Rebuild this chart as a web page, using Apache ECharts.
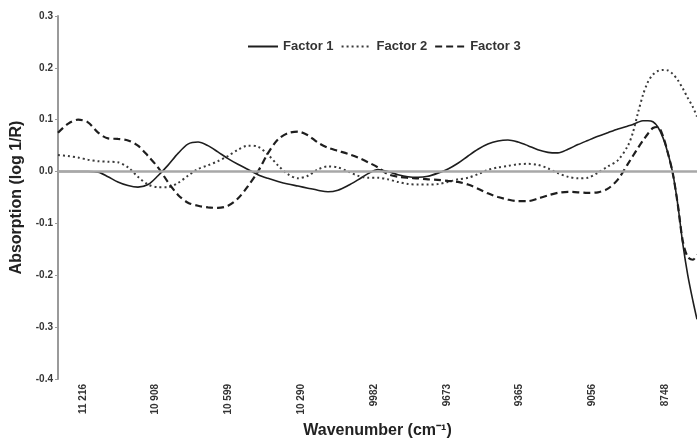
<!DOCTYPE html>
<html>
<head>
<meta charset="utf-8">
<script src="https://cdn.jsdelivr.net/npm/echarts@6/dist/echarts.min.js"></script>
<style>
html,body{margin:0;padding:0;background:#fff;}
#chart{width:697px;height:439px;}
</style>
</head>
<body>
<div id="chart"></div>
<script>
// Wavenumber (cm-1) sample positions
var wavenumbers = [11322,11280,11237,11195,11152,11110,11068,11025,10983,10940,
  10898,10856,10813,10771,10728,10686,10644,10601,10559,10516,
  10474,10432,10389,10347,10304,10262,10220,10177,10135,10092,
  10050,10007,9965,9923,9880,9838,9795,9753,9711,9668,
  9626,9583,9541,9499,9456,9414,9371,9329,9287,9244,
  9202,9159,9117,9075,9032,8990,8947,8905,8884,8863,
  8841,8820,8799,8778,8756,8735,8714,8693,8672,8651,
  8629,8612];

var factor1 = [0.000,0.000,0.000,0.000,-0.001,-0.010,-0.020,-0.027,-0.030,-0.025,
  -0.008,0.012,0.035,0.053,0.057,0.050,0.038,0.025,0.014,0.004,
  -0.006,-0.013,-0.019,-0.024,-0.028,-0.032,-0.036,-0.039,-0.036,-0.027,
  -0.016,-0.004,0.004,0.000,-0.006,-0.010,-0.011,-0.009,-0.003,0.005,
  0.016,0.030,0.043,0.053,0.059,0.061,0.057,0.050,0.042,0.037,
  0.036,0.043,0.052,0.060,0.068,0.075,0.082,0.088,0.091,0.095,
  0.098,0.098,0.096,0.086,0.065,0.035,-0.005,-0.065,-0.140,-0.200,
  -0.250,-0.285];

var factor2 = [0.032,0.030,0.027,0.023,0.020,0.019,0.018,0.008,-0.010,-0.025,
  -0.030,-0.030,-0.022,-0.008,0.005,0.012,0.020,0.030,0.042,0.050,
  0.048,0.033,0.012,-0.005,-0.013,-0.008,0.004,0.010,0.008,0.000,
  -0.008,-0.012,-0.012,-0.015,-0.020,-0.024,-0.025,-0.025,-0.024,-0.020,
  -0.015,-0.012,-0.005,0.003,0.008,0.011,0.014,0.015,0.013,0.006,
  -0.003,-0.010,-0.013,-0.012,-0.002,0.010,0.022,0.050,0.075,0.112,
  0.148,0.173,0.187,0.194,0.196,0.195,0.188,0.176,0.160,0.142,
  0.124,0.106];

var factor3 = [0.075,0.092,0.100,0.095,0.075,0.064,0.063,0.060,0.050,0.030,
  0.008,-0.020,-0.045,-0.060,-0.066,-0.069,-0.070,-0.066,-0.052,-0.028,
  0.000,0.035,0.062,0.074,0.077,0.070,0.056,0.046,0.040,0.034,
  0.027,0.018,0.008,-0.005,-0.010,-0.012,-0.013,-0.015,-0.016,-0.018,
  -0.020,-0.025,-0.033,-0.042,-0.049,-0.054,-0.057,-0.057,-0.052,-0.046,
  -0.041,-0.039,-0.040,-0.041,-0.040,-0.033,-0.015,0.015,0.030,0.045,
  0.060,0.073,0.084,0.086,0.068,0.035,-0.005,-0.065,-0.135,-0.165,
  -0.170,-0.160];

var seriesNames = ['Factor 1','Factor 2','Factor 3'];
var tickValues = [11216,10908,10599,10290,9982,9673,9365,9056,8748];
var tickLabels = ['11 216','10 908','10 599','10 290','9982','9673','9365','9056','8748'];

function pairs(ys){
  return wavenumbers.map(function(w,i){ return [w, ys[i]]; });
}

var chart = echarts.init(document.getElementById('chart'), null, {renderer:'canvas'});
var font = 'Liberation Sans, Arial, sans-serif';
var option = {
  backgroundColor:'#ffffff',
  animation:false,
  textStyle:{fontFamily:font},
  legend:{
    data:seriesNames,
    left:242, top:35,
    itemWidth:30, itemHeight:12, itemGap:7,
    itemStyle:{opacity:0},
    textStyle:{fontSize:13, fontWeight:'bold', color:'#333', fontFamily:font}
  },
  grid:{left:58, right:0, top:16, bottom:60, outerBoundsMode:'none'},
  xAxis:{
    type:'value', inverse:true, min:8612, max:11322,
    name:'Wavenumber (cm⁻¹)', nameLocation:'middle', nameGap:41,
    nameTextStyle:{fontSize:16, fontWeight:'bold', color:'#222', fontFamily:font},
    axisLine:{show:true, lineStyle:{color:'#c8c8c8', width:1, type:'dotted'}},
    axisTick:{show:false},
    splitLine:{show:false},
    axisLabel:{
      customValues:tickValues, rotate:90, margin:5,
      fontSize:10, fontWeight:'bold', color:'#333', fontFamily:font,
      formatter:function(v){
        var i = tickValues.indexOf(Math.round(v));
        return i >= 0 ? tickLabels[i] : '';
      }
    }
  },
  yAxis:{
    type:'value', min:-0.4, max:0.3, interval:0.1,
    name:'Absorption (log 1/R)', nameLocation:'middle', nameGap:32, nameRotate:90,
    nameTextStyle:{fontSize:16, fontWeight:'bold', color:'#222', fontFamily:font},
    axisLine:{show:true, lineStyle:{color:'#9a9a9a', width:2}},
    axisTick:{show:true, length:3, lineStyle:{color:'#9a9a9a'}},
    splitLine:{show:false},
    axisLabel:{
      fontSize:10, fontWeight:'bold', color:'#333', margin:5, fontFamily:font,
      formatter:function(v){ return v.toFixed(1); }
    }
  },
  series:[
    {
      name:'zero', type:'line', data:[], z:1, silent:true,
      markLine:{
        silent:true, symbol:['none','none'], label:{show:false},
        lineStyle:{color:'#a8a8a8', width:2.5, type:'solid'},
        data:[{yAxis:0}]
      }
    },
    {
      name:seriesNames[0], type:'line', data:pairs(factor1), smooth:0.3,
      symbol:'none', z:3, clip:true,
      lineStyle:{color:'#1e1e1e', width:1.6, type:'solid'},
      itemStyle:{color:'#1e1e1e'}
    },
    {
      name:seriesNames[1], type:'line', data:pairs(factor2), smooth:0.3,
      symbol:'none', z:3, clip:true,
      lineStyle:{color:'#3a3a3a', width:2, type:[2,3]},
      itemStyle:{color:'#3a3a3a'}
    },
    {
      name:seriesNames[2], type:'line', data:pairs(factor3), smooth:0.3,
      symbol:'none', z:3, clip:true,
      lineStyle:{color:'#1e1e1e', width:2.2, type:[7,4]},
      itemStyle:{color:'#1e1e1e'}
    }
  ]
};
chart.setOption(option);
</script>
</body>
</html>
